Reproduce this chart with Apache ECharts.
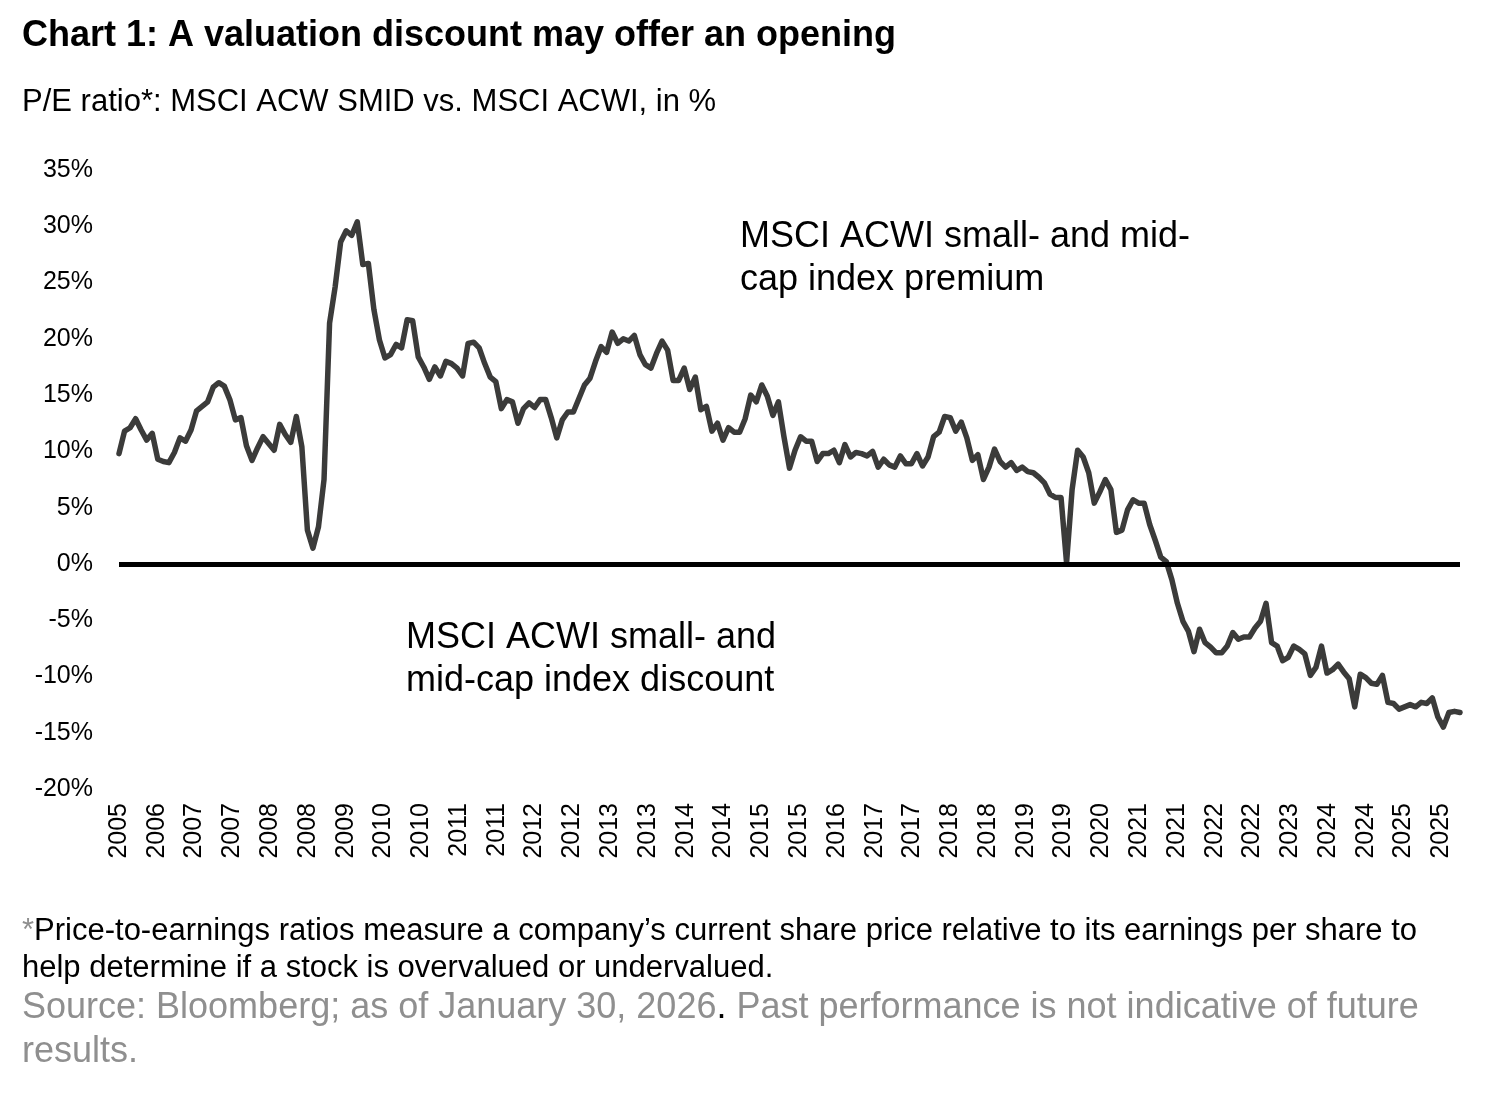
<!DOCTYPE html>
<html>
<head>
<meta charset="utf-8">
<title>Chart 1</title>
<script src="https://cdn.jsdelivr.net/npm/echarts@6/dist/echarts.min.js"></script>
<style>
  html, body { margin: 0; padding: 0; background: #ffffff; }
  #chart { width: 1500px; height: 1093px; }
</style>
</head>
<body>
<div id="chart"></div>
<script>
// ---- Data ----
const tickLabels = ['2005','2006','2007','2007','2008','2008','2009','2010','2010','2011','2011','2012','2012','2013','2013','2014','2014','2015','2015','2016','2017','2017','2018','2018','2019','2019','2020','2021','2021','2022','2022','2023','2024','2024','2025','2025'];

// P/E premium (+) / discount (-) of MSCI ACWI SMID vs. MSCI ACWI, in %
const premium2005to2012 = [
  9.8, 11.8, 12.1, 12.9, 11.9, 11.0, 11.6, 9.3, 9.1, 9.0,
  9.9, 11.2, 10.9, 11.9, 13.6, 14.0, 14.4, 15.7, 16.1, 15.8,
  14.6, 12.8, 13.0, 10.5, 9.2, 10.3, 11.3, 10.7, 10.1, 12.4,
  11.5, 10.8, 13.1, 10.4, 3.0, 1.4, 3.3, 7.5, 21.4, 24.6,
  28.6, 29.6, 29.2, 30.4, 26.6, 26.7, 22.6, 19.9, 18.3, 18.6,
  19.5, 19.2, 21.7, 21.6, 18.4, 17.5, 16.4, 17.5, 16.7, 18.0,
  17.8, 17.4, 16.7, 19.6, 19.7, 19.2, 17.8, 16.6, 16.2, 13.8,
  14.6, 14.4, 12.5, 13.8, 14.3, 13.9, 14.6, 14.6, 13.0, 11.2
];
const premium2012to2019 = [
  12.8, 13.5, 13.5, 14.7, 15.9, 16.5, 18.0, 19.3, 18.8, 20.6,
  19.6, 20.0, 19.8, 20.3, 18.6, 17.7, 17.4, 18.7, 19.8, 19.0,
  16.3, 16.3, 17.4, 15.5, 16.6, 13.7, 14.0, 11.8, 12.5, 11.0,
  12.1, 11.7, 11.7, 12.9, 15.0, 14.4, 15.9, 14.9, 13.2, 14.4,
  11.3, 8.5, 10.1, 11.3, 10.9, 10.9, 9.1, 9.8, 9.8, 10.1,
  9.0, 10.6, 9.5, 9.9, 9.8, 9.6, 10.0, 8.6, 9.3, 8.8,
  8.6, 9.6, 8.9, 8.9, 9.8, 8.7, 9.5, 11.3, 11.7, 13.1,
  13.0, 11.8, 12.6, 11.2, 9.2, 9.7, 7.5, 8.6, 10.2, 9.1,
  8.6, 9.0, 8.3
];
const premium2019to2025 = [
  8.6, 8.2, 8.1, 7.7, 7.2, 6.2, 5.9, 5.9, 0.1, 6.6,
  10.1, 9.5, 8.1, 5.4, 6.4, 7.5, 6.6, 2.8, 3.0, 4.8,
  5.7, 5.4, 5.4, 3.5, 2.1, 0.6, 0.2, -1.4, -3.5, -5.1,
  -6.0, -7.8, -5.8, -7.0, -7.4, -7.9, -7.9, -7.3, -6.1, -6.7,
  -6.5, -6.5, -5.7, -5.1, -3.5, -7.0, -7.3, -8.6, -8.3, -7.3,
  -7.6, -8.0, -9.9, -9.2, -7.3, -9.7, -9.4, -8.9, -9.6, -10.2,
  -12.7, -9.8, -10.1, -10.6, -10.7, -9.9, -12.3, -12.4, -12.9, -12.7,
  -12.5, -12.7, -12.3, -12.4, -11.9, -13.6, -14.5, -13.2, -13.1, -13.2
];
const premium = premium2005to2012.concat(premium2012to2019, premium2019to2025);

// ---- Layout / style ----
const FONT = '"Liberation Sans", Arial, Helvetica, sans-serif';
const LABEL_STEP = 6.818; // spacing of the year labels, in data points
const GRAY = '#8f8f8f';

const chart = echarts.init(document.getElementById('chart'), null, { renderer: 'canvas' });

const lastIndex = premium.length - 1;

const option = {
  animation: false,
  backgroundColor: '#ffffff',
  grid: { left: 119, right: 40, top: 170, bottom: 304, containLabel: false },
  xAxis: {
    type: 'value',
    min: 0,
    max: lastIndex,
    interval: LABEL_STEP,
    axisLine: { show: false },
    axisTick: { show: false },
    splitLine: { show: false },
    axisLabel: {
      rotate: 90,
      margin: 14,
      fontFamily: FONT,
      fontSize: 25,
      color: '#000000',
      showMaxLabel: false,
      formatter: function (v) {
        const k = v / LABEL_STEP;
        const r = Math.round(k);
        if (Math.abs(k - r) < 0.02 && r >= 0 && r < tickLabels.length) return tickLabels[r];
        return '';
      }
    }
  },
  yAxis: {
    type: 'value',
    min: -20,
    max: 35,
    interval: 5,
    axisLine: { show: false },
    axisTick: { show: false },
    splitLine: { show: false },
    axisLabel: {
      margin: 26,
      fontFamily: FONT,
      fontSize: 25,
      color: '#000000',
      formatter: '{value}%'
    }
  },
  series: [
    {
      name: 'zero',
      type: 'line',
      data: [],
      z: 1,
      silent: true,
      markLine: {
        silent: true,
        symbol: ['none', 'none'],
        label: { show: false },
        lineStyle: { color: '#000000', width: 5, type: 'solid' },
        data: [{ yAxis: 0 }]
      }
    },
    {
      name: 'MSCI ACW SMID vs. MSCI ACWI',
      type: 'line',
      z: 3,
      data: premium.map(function (v, i) { return [i, v]; }),
      showSymbol: false,
      symbol: 'none',
      lineStyle: { color: '#3b3b3a', width: 5.5, cap: 'round', join: 'round' }
    }
  ],
  graphic: [
    {
      type: 'text', x: 22, y: 36,
      style: { text: 'Chart 1: A valuation discount may offer an opening', font: 'bold 36px ' + FONT, fill: '#000000', verticalAlign: 'middle', align: 'left' }
    },
    {
      type: 'text', x: 22, y: 102,
      style: { text: 'P/E ratio*: MSCI ACW SMID vs. MSCI ACWI, in %', font: '31px ' + FONT, fill: '#000000', verticalAlign: 'middle', align: 'left' }
    },
    {
      type: 'text', x: 740, y: 237,
      style: { text: 'MSCI ACWI small- and mid-', font: '36px ' + FONT, fill: '#000000', verticalAlign: 'middle', align: 'left' }
    },
    {
      type: 'text', x: 740, y: 280,
      style: { text: 'cap index premium', font: '36px ' + FONT, fill: '#000000', verticalAlign: 'middle', align: 'left' }
    },
    {
      type: 'text', x: 406, y: 638,
      style: { text: 'MSCI ACWI small- and', font: '36px ' + FONT, fill: '#000000', verticalAlign: 'middle', align: 'left' }
    },
    {
      type: 'text', x: 406, y: 681,
      style: { text: 'mid-cap index discount', font: '36px ' + FONT, fill: '#000000', verticalAlign: 'middle', align: 'left' }
    },
    {
      type: 'text', x: 22, y: 931,
      style: {
        text: '{g|*}{b|Price-to-earnings ratios measure a company\u2019s current share price relative to its earnings per share to}',
        font: '31px ' + FONT, verticalAlign: 'middle', align: 'left',
        rich: {
          g: { fill: GRAY, fontSize: 31, fontFamily: FONT },
          b: { fill: '#000000', fontSize: 31, fontFamily: FONT }
        }
      }
    },
    {
      type: 'text', x: 22, y: 968,
      style: { text: 'help determine if a stock is overvalued or undervalued.', font: '31px ' + FONT, fill: '#000000', verticalAlign: 'middle', align: 'left' }
    },
    {
      type: 'text', x: 22, y: 1008,
      style: {
        text: '{g|Source: Bloomberg; as of January 30, 2026}{b|.}{g| Past performance is not indicative of future}',
        font: '36px ' + FONT, verticalAlign: 'middle', align: 'left',
        rich: {
          g: { fill: GRAY, fontSize: 36, fontFamily: FONT },
          b: { fill: '#000000', fontSize: 36, fontFamily: FONT }
        }
      }
    },
    {
      type: 'text', x: 22, y: 1052,
      style: { text: 'results.', font: '36px ' + FONT, fill: GRAY, verticalAlign: 'middle', align: 'left' }
    }
  ]
};

chart.setOption(option);
</script>
</body>
</html>
